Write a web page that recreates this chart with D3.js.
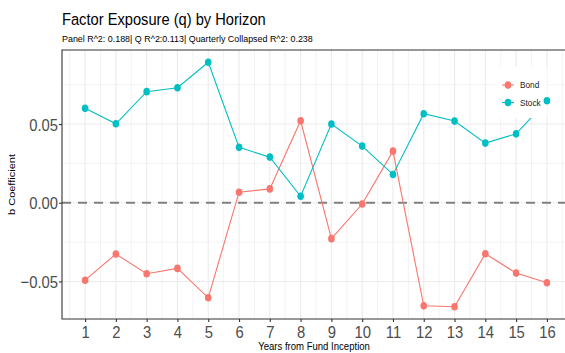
<!DOCTYPE html>
<html>
<head>
<meta charset="utf-8">
<script src="https://cdn.jsdelivr.net/npm/d3@7"></script>
<style>
  body { margin: 0; background: #fff; }
  text { font-family: 'Liberation Sans', Arial, sans-serif; }
</style>
</head>
<body>
<div id="chart"></div>
<script>
const years = [1, 2, 3, 4, 5, 6, 7, 8, 9, 10, 11, 12, 13, 14, 15, 16];
const bond = [-0.0492, -0.0326, -0.0451, -0.0417, -0.0604, 0.0067, 0.0088, 0.0521,
  -0.0228, -0.0008, 0.0328, -0.0655, -0.0661, -0.0324, -0.0447, -0.0508];
const stock = [0.0600, 0.0502, 0.0706, 0.0731, 0.0893, 0.0352, 0.0290, 0.0041,
  0.0500, 0.0360, 0.0180, 0.0566, 0.0519, 0.0379, 0.0438, 0.0648];
const yTicks = [-0.05, 0, 0.05];
const yMinor = [-0.025, 0.025, 0.075];
const seriesNames = ['Bond', 'Stock'];
const title = 'Factor Exposure (q) by Horizon';
const subtitle = 'Panel R^2: 0.188| Q R^2:0.113| Quarterly Collapsed R^2: 0.238';

const width = 565;
const height = 353;
const panel = { left: 62, right: 570, top: 50, bottom: 319 };
const colors = { Bond: '#F8766D', Stock: '#00BFC4' };
const sx = 0.87; // text looks horizontally squeezed in the reference

const svg = d3
  .select('#chart')
  .append('svg')
  .attr('width', width)
  .attr('height', height);

// ggplot style 5% expansion
const expand = (ext) => {
  const pad = (ext[1] - ext[0]) * 0.05;
  return [ext[0] - pad, ext[1] + pad];
};

const xScale = d3
  .scaleLinear()
  .domain(expand(d3.extent(years)))
  .range([panel.left, panel.right]);

const yScale = d3
  .scaleLinear()
  .domain(expand(d3.extent([...bond, ...stock])))
  .range([panel.bottom, panel.top]);

const grid = svg.append('g');
const xMinor = years.map((d) => d - 0.5).concat([years[years.length - 1] + 0.5]);

grid
  .selectAll('.vminor')
  .data(xMinor)
  .join('line')
  .attr('x1', (d) => xScale(d))
  .attr('x2', (d) => xScale(d))
  .attr('y1', panel.top)
  .attr('y2', panel.bottom)
  .attr('stroke', '#EBEBEB')
  .attr('stroke-width', 0.6);

grid
  .selectAll('.hminor')
  .data(yMinor)
  .join('line')
  .attr('x1', panel.left)
  .attr('x2', panel.right)
  .attr('y1', (d) => yScale(d))
  .attr('y2', (d) => yScale(d))
  .attr('stroke', '#EBEBEB')
  .attr('stroke-width', 0.6);

grid
  .selectAll('.vmajor')
  .data(years)
  .join('line')
  .attr('x1', (d) => xScale(d))
  .attr('x2', (d) => xScale(d))
  .attr('y1', panel.top)
  .attr('y2', panel.bottom)
  .attr('stroke', '#EBEBEB')
  .attr('stroke-width', 1.1);

grid
  .selectAll('.hmajor')
  .data(yTicks)
  .join('line')
  .attr('x1', panel.left)
  .attr('x2', panel.right)
  .attr('y1', (d) => yScale(d))
  .attr('y2', (d) => yScale(d))
  .attr('stroke', '#EBEBEB')
  .attr('stroke-width', 1.1);

// zero reference line
svg
  .append('line')
  .attr('x1', panel.left)
  .attr('x2', panel.right)
  .attr('y1', yScale(0))
  .attr('y2', yScale(0))
  .attr('stroke', '#808080')
  .attr('stroke-width', 2.2)
  .attr('stroke-dasharray', '9,7');

const series = seriesNames.map((name) => ({
  name,
  values: (name === 'Bond' ? bond : stock).map((v, i) => ({ x: years[i], y: v })),
}));

const line = d3
  .line()
  .x((d) => xScale(d.x))
  .y((d) => yScale(d.y));

svg
  .append('g')
  .selectAll('path')
  .data(series)
  .join('path')
  .attr('d', (d) => line(d.values))
  .attr('fill', 'none')
  .attr('stroke', (d) => colors[d.name])
  .attr('stroke-width', 1.1);

// legend box sits over the lines
const legend = svg.append('g');
legend
  .append('rect')
  .attr('x', 497)
  .attr('y', 67)
  .attr('width', 50)
  .attr('height', 51)
  .attr('fill', '#fff');

svg
  .append('g')
  .selectAll('g')
  .data(series)
  .join('g')
  .attr('fill', (d) => colors[d.name])
  .selectAll('ellipse')
  .data((d) => d.values)
  .join('ellipse')
  .attr('cx', (d) => xScale(d.x))
  .attr('cy', (d) => yScale(d.y))
  .attr('rx', 3.3)
  .attr('ry', 3.8);

const keys = legend
  .selectAll('.key')
  .data(seriesNames)
  .join('g')
  .attr('class', 'key')
  .attr('transform', (d, i) => `translate(508, ${85 + i * 17.5})`);

keys
  .append('line')
  .attr('x1', -6)
  .attr('x2', 6)
  .attr('stroke', (d) => colors[d])
  .attr('stroke-width', 1.1);

keys
  .append('ellipse')
  .attr('rx', 3.3)
  .attr('ry', 3.8)
  .attr('fill', (d) => colors[d]);

keys
  .append('text')
  .attr('transform', `translate(12, 3.3) scale(${sx},1)`)
  .style('font-size', '9.5px')
  .attr('fill', '#1a1a1a')
  .text((d) => d);

// panel border (right side is cut off by the crop)
svg
  .append('path')
  .attr('d', `M${panel.right},${panel.top}H${panel.left}V${panel.bottom}H${panel.right}`)
  .attr('fill', 'none')
  .attr('stroke', '#333')
  .attr('stroke-width', 1.1);

// axes
const yAxis = svg
  .append('g')
  .attr('transform', `translate(${panel.left},0)`)
  .call(
    d3.axisLeft(yScale).tickValues(yTicks).tickSize(3).tickPadding(2)
      .tickFormat(d3.format('.2f'))
  );
yAxis.select('.domain').remove();
yAxis.selectAll('line').attr('stroke', '#333').attr('stroke-width', 1.1);
yAxis
  .selectAll('text')
  .attr('x', null)
  .attr('dy', null)
  .attr('transform', `translate(-4, 6) scale(${sx},1)`)
  .attr('fill', '#4D4D4D')
  .style('font-size', '17px')
  .style('font-family', "'Liberation Sans', Arial, sans-serif");

const xAxis = svg
  .append('g')
  .attr('transform', `translate(0,${panel.bottom})`)
  .call(d3.axisBottom(xScale).tickValues(years).tickSize(3).tickFormat(d3.format('d')));
xAxis.select('.domain').remove();
xAxis.selectAll('line').attr('stroke', '#333').attr('stroke-width', 1.1);
xAxis
  .selectAll('text')
  .attr('y', null)
  .attr('dy', null)
  .attr('transform', `translate(0, 18.5) scale(${sx},1)`)
  .attr('fill', '#4D4D4D')
  .style('font-size', '17px')
  .style('font-family', "'Liberation Sans', Arial, sans-serif");

// titles
svg
  .append('text')
  .attr('transform', `translate(62, 25) scale(${sx + 0.03},1)`)
  .style('font-size', '16.3px')
  .attr('fill', '#000')
  .text(title);

svg
  .append('text')
  .attr('transform', `translate(62, 42) scale(${sx + 0.04},1)`)
  .style('font-size', '9.8px')
  .attr('fill', '#000')
  .text(subtitle);

svg
  .append('text')
  .attr('transform', `translate(314, 350) scale(${sx},1)`)
  .attr('text-anchor', 'middle')
  .style('font-size', '11px')
  .attr('fill', '#000')
  .text('Years from Fund Inception');

svg
  .append('text')
  .attr('transform', `translate(15, ${(panel.top + panel.bottom) / 2}) rotate(-90) scale(1,${sx})`)
  .attr('text-anchor', 'middle')
  .style('font-size', '11px')
  .attr('fill', '#000')
  .text('b Coefficient');
</script>
</body>
</html>
